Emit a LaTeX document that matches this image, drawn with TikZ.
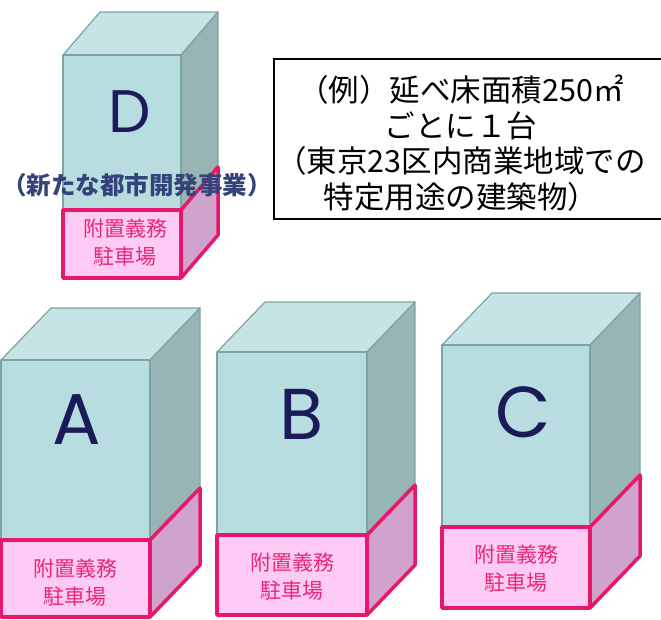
\documentclass[tikz,border=0pt]{standalone}
\usepackage{fontspec}
\newfontfamily\jp{Noto Sans CJK JP}
\newfontfamily\lat{Poppins}
\definecolor{topc}{HTML}{C6E4E5}
\definecolor{frontc}{HTML}{B7DDE0}
\definecolor{sidec}{HTML}{97B5B5}
\definecolor{edgec}{HTML}{7FA3A3}
\definecolor{pinkf}{HTML}{FDCBF3}
\definecolor{pinks}{HTML}{CFA3CB}
\definecolor{pinkline}{HTML}{E8176B}
\definecolor{pinktext}{HTML}{E8287A}
\definecolor{navy}{HTML}{1B1B5A}
\definecolor{subc}{HTML}{34447A}
\tikzset{
  topface/.style={fill=topc,draw=edgec,line width=1.2pt,line join=round},
  sideface/.style={fill=sidec,draw=edgec,line width=1.2pt,line join=round},
  frontface/.style={fill=frontc,draw=edgec,line width=1.2pt,line join=round},
  pinkside/.style={fill=pinks,draw=pinkline,line width=3.5pt,line join=round},
  pinkfront/.style={fill=pinkf,draw=pinkline,line width=3.5pt,line join=round},
  letter/.style={text=navy,font=\lat\fontsize{72}{72}\selectfont,inner sep=0pt},
  parklabel/.style={text=pinktext,align=center,inner sep=0pt,font=\jp\fontsize{21}{28}\selectfont},
  notebox/.style={draw=black,line width=2.5pt},
  notetext/.style={align=center,inner sep=0pt,font=\jp\fontsize{30.5}{35.5}\selectfont},
  subtitle/.style={text=subc,inner sep=0pt,font=\jp\bfseries\fontsize{24.5}{25}\selectfont}
}
\newcommand\drawbldg[7]{%
  \filldraw[topface] (#1,#3) -- (#1+#6,#3-#7) -- (#2+#6,#3-#7) -- (#2,#3) -- cycle;
  \filldraw[sideface] (#2,#3) -- (#2+#6,#3-#7) -- (#2+#6,#4-#7) -- (#2,#4) -- cycle;
  \filldraw[frontface] (#1,#3) rectangle (#2,#4);
  \filldraw[pinkside] (#2,#4) -- (#2+#6,#4-#7) -- (#2+#6,#5-#7) -- (#2,#5) -- cycle;
  \filldraw[pinkfront] (#1,#4) rectangle (#2,#5);
}
\begin{document}
\begin{tikzpicture}[x=1pt,y=-1pt]
\useasboundingbox (0,0) rectangle (661,619);
\clip (0,0) rectangle (661,619);
\fill[white] (0,0) rectangle (661,619);
% note box
\draw[notebox] (274,59) rectangle (680,219);
\node[notetext] (note) at (461,143) {（例）延べ床面積250㎡\\ごとに１台\\（東京23区内商業地域での\\特定用途の建築物）};
% building D
\drawbldg{63}{181}{55}{210}{278}{37}{43}
\node[letter,font=\lat\fontsize{60}{60}\selectfont] (D) at (130,112) {D};
\node[parklabel] (pD) at (125,243) {附置義務\\駐車場};
\node[subtitle] (sub) at (137,185) {（新たな都市開発事業）};
% building A
\drawbldg{1}{150}{360}{540}{617}{50}{52}
\node[letter] (A) at (77,420) {A};
\node[parklabel] (pA) at (75,583) {附置義務\\駐車場};
% building B
\drawbldg{217}{367}{352}{535}{615}{48}{50}
\node[letter] (B) at (302,414) {B};
\node[parklabel] (pB) at (292,577) {附置義務\\駐車場};
% building C
\drawbldg{442}{590}{345}{527}{608}{50}{52}
\node[letter] (C) at (523,412) {C};
\node[parklabel] (pC) at (516,569) {附置義務\\駐車場};
\end{tikzpicture}
\end{document}
